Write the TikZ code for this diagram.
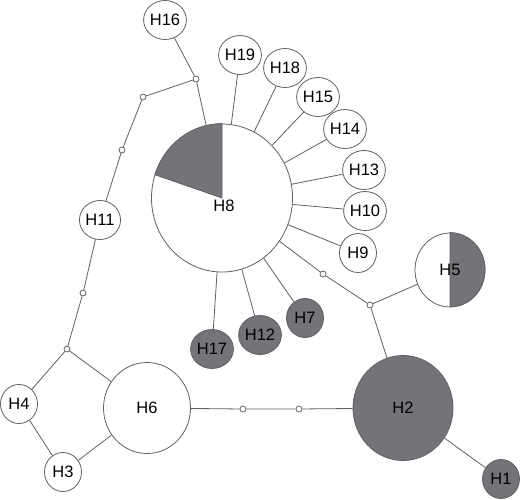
\documentclass[tikz,border=0pt]{standalone}
\usepackage{fontspec}
\setmainfont{Liberation Sans}
\usetikzlibrary{shapes.geometric}
\definecolor{linegray}{RGB}{98,94,102}
\definecolor{hapgray}{RGB}{118,115,120}
\tikzset{
  hap/.style={ellipse, draw=linegray, fill=white, line width=0.8pt, inner sep=0pt,
    minimum width=37pt, minimum height=39pt},
  hapdark/.style={hap, fill=hapgray},
  medvec/.style={circle, draw=linegray, fill=white, line width=0.8pt, inner sep=0pt,
    minimum size=6pt},
  link/.style={linegray, line width=0.8pt}
}
\begin{document}
\begin{tikzpicture}[x=1pt, y=-1pt, font=\fontsize{16.5}{18}\selectfont]
  \useasboundingbox (0,0) rectangle (520,499);
  % buyuk haplotipler
  \node[hap, minimum width=141pt, minimum height=148pt] (h8) at (222,198) {};
  \node[hap, minimum width=70pt, minimum height=74pt] (h5) at (450,270) {};
  \node[hap, minimum width=87pt, minimum height=91pt] (h6) at (147,408) {H6};
  \node[hapdark, minimum width=100pt, minimum height=105pt] (h2) at (403,408) {H2};
  % pasta dilimleri
  \filldraw[hapgray, draw=linegray, line width=0.8pt] (h8.center) -- (h8.north)
    arc[start angle=90, end angle=162, x radius=70.5pt, y radius=74pt] -- cycle;
  \filldraw[hapgray, draw=linegray, line width=0.8pt] (h5.center) -- (h5.north)
    arc[start angle=90, end angle=-90, x radius=35pt, y radius=37pt] -- cycle;
  \node (h8txt) at (224,206) {H8};
  \node (h5txt) at (450,270) {H5};
  % kucuk haplotipler
  \node[hapdark] (h1) at (501,479) {H1};
  \node[hap] (h3) at (63,472) {H3};
  \node[hap] (h4) at (19,404) {H4};
  \node[hapdark] (h7) at (305,318) {H7};
  \node[hap] (h9) at (358,253) {H9};
  \node[hap] (h10) at (365,211) {H10};
  \node[hap] (h11) at (100,220) {H11};
  \node[hapdark] (h12) at (260,335) {H12};
  \node[hap] (h13) at (364,170) {H13};
  \node[hap] (h14) at (345,129) {H14};
  \node[hap] (h15) at (318,97) {H15};
  \node[hap] (h16) at (165,20) {H16};
  \node[hapdark] (h17) at (212,349) {H17};
  \node[hap] (h18) at (285,68) {H18};
  \node[hap] (h19) at (240,55) {H19};
  % ara vektorler
  \node[medvec] (mv1) at (196,79) {};
  \node[medvec] (mv2) at (143,97) {};
  \node[medvec] (mv3) at (122,150) {};
  \node[medvec] (mv4) at (83,293) {};
  \node[medvec] (mv5) at (67,349) {};
  \node[medvec] (mv6) at (243,409) {};
  \node[medvec] (mv7) at (299,409) {};
  \node[medvec] (mv8) at (323,274) {};
  \node[medvec] (mv9) at (370,305) {};
  % H8 cevresi
  \foreach \h in {h19,h18,h15,h14,h13,h10,h9,h7,h12,h17}
    \draw[link] (h8) -- (\h);
  % sol halka
  \draw[link] (h16) -- (mv1) -- (h8);
  \draw[link] (mv1) -- (mv2) -- (mv3) -- (h11) -- (mv4) -- (mv5);
  \draw[link] (mv5) -- (h4) -- (h3) -- (h6) -- (mv5);
  % alt ve sag
  \draw[link] (h6) -- (mv6) -- (mv7) -- (h2) -- (h1);
  \draw[link] (h8) -- (mv8) -- (mv9) -- (h5);
  \draw[link] (mv9) -- (h2);
\end{tikzpicture}
\end{document}
